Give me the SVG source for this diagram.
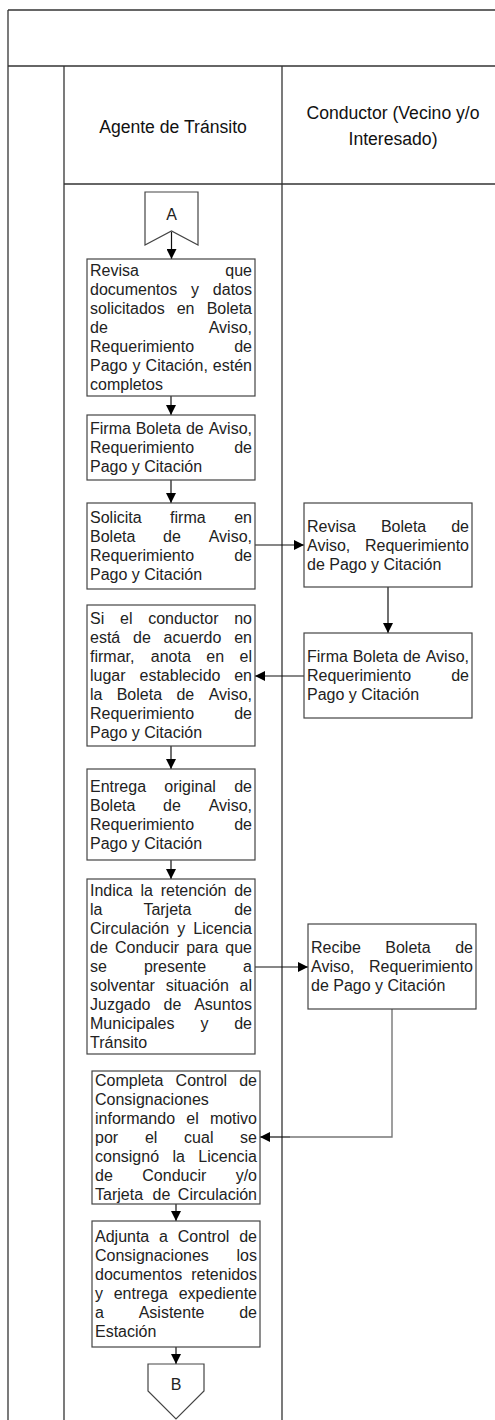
<svg xmlns="http://www.w3.org/2000/svg" width="495" height="1420" viewBox="0 0 495 1420">
<style>
.frame{stroke:#333;stroke-width:1.3;fill:none}
.box{fill:#fff;stroke:#444;stroke-width:1.2}
.t{font-family:"Liberation Sans",Arial,Helvetica,sans-serif;font-size:16px;fill:#222}
.e{text-anchor:end}
.m{text-anchor:middle}
.h{font-family:"Liberation Sans",Arial,Helvetica,sans-serif;font-size:17.6px;fill:#111;text-anchor:middle}
.c{stroke:#111;stroke-width:1.2;fill:none}
.cg{stroke:#777;stroke-width:1.4;fill:none}
</style>
<defs>
<marker id="ah" viewBox="0 0 10 10" refX="10" refY="5" markerWidth="10" markerHeight="10" markerUnits="userSpaceOnUse" orient="auto">
<path d="M0,0 L10,5 L0,10 Z" fill="#000"/>
</marker>
</defs>
<rect width="495" height="1420" fill="#fff"/>
<g id="frame">
<line class="frame" x1="8" y1="10" x2="500" y2="10"/>
<line class="frame" x1="8" y1="10" x2="8" y2="1420"/>
<line class="frame" x1="8" y1="66" x2="500" y2="66"/>
<line class="frame" x1="64" y1="66" x2="64" y2="1420"/>
<line class="frame" x1="282" y1="66" x2="282" y2="1420"/>
<line class="frame" x1="64" y1="184" x2="500" y2="184"/>
<text class="h" x="173" y="133">Agente de Tránsito</text>
<text class="h" x="393" y="119">Conductor (Vecino y/o</text>
<text class="h" x="393" y="145">Interesado)</text>
</g>
<g id="connectors">
<line class="c" x1="171.5" y1="232" x2="171.5" y2="259" marker-end="url(#ah)"/>
<line class="c" x1="171" y1="396" x2="171" y2="415" marker-end="url(#ah)"/>
<line class="c" x1="171" y1="480" x2="171" y2="503" marker-end="url(#ah)"/>
<line class="c" x1="255" y1="545" x2="304" y2="545" marker-end="url(#ah)"/>
<line class="c" x1="388" y1="587" x2="388" y2="633" marker-end="url(#ah)"/>
<line class="c" x1="304" y1="676" x2="255" y2="676" marker-end="url(#ah)"/>
<line class="c" x1="171" y1="746" x2="171" y2="769" marker-end="url(#ah)"/>
<line class="c" x1="171" y1="860" x2="171" y2="879" marker-end="url(#ah)"/>
<line class="c" x1="255" y1="967" x2="308" y2="967" marker-end="url(#ah)"/>
<polyline class="cg" points="392,1009 392,1137 290,1137"/>
<line class="c" x1="290" y1="1137" x2="260" y2="1137" marker-end="url(#ah)"/>
<line class="c" x1="176" y1="1204" x2="176" y2="1221" marker-end="url(#ah)"/>
<line class="c" x1="176" y1="1347" x2="176" y2="1364" marker-end="url(#ah)"/>
</g>
<g id="connA">
<polygon class="box" points="145,192 198,192 198,245 171.5,231 145,245"/>
<text class="t m" x="171.5" y="220">A</text>
</g>
<g id="n1">
<rect class="box" x="87" y="259" width="168" height="137"/>
<text class="t" x="90" y="276">Revisa</text><text class="t e" x="252" y="276">que</text>
<text class="t" x="90" y="295">documentos</text><text class="t" x="191" y="295">y</text><text class="t e" x="252" y="295">datos</text>
<text class="t" x="90" y="314">solicitados</text><text class="t" x="176.7" y="314">en</text><text class="t e" x="252" y="314">Boleta</text>
<text class="t" x="90" y="333">de</text><text class="t e" x="252" y="333">Aviso,</text>
<text class="t" x="90" y="352">Requerimiento</text><text class="t e" x="252" y="352">de</text>
<text class="t" x="90" y="371">Pago</text><text class="t" x="132.5" y="371">y</text><text class="t" x="145.6" y="371">Citación,</text><text class="t e" x="252" y="371">estén</text>
<text class="t" x="90" y="390">completos</text>
</g>
<g id="n2">
<rect class="box" x="87" y="415" width="168" height="65"/>
<text class="t" x="90" y="434">Firma</text><text class="t" x="135.7" y="434">Boleta</text><text class="t" x="185.9" y="434">de</text><text class="t e" x="252" y="434">Aviso,</text>
<text class="t" x="90" y="453">Requerimiento</text><text class="t e" x="252" y="453">de</text>
<text class="t" x="90" y="472">Pago y Citación</text>
</g>
<g id="n3">
<rect class="box" x="87" y="503" width="168" height="86"/>
<text class="t" x="90" y="523">Solicita</text><text class="t" x="170.1" y="523">firma</text><text class="t e" x="252" y="523">en</text>
<text class="t" x="90" y="542">Boleta</text><text class="t" x="163" y="542">de</text><text class="t e" x="252" y="542">Aviso,</text>
<text class="t" x="90" y="561">Requerimiento</text><text class="t e" x="252" y="561">de</text>
<text class="t" x="90" y="580">Pago y Citación</text>
</g>
<g id="n4">
<rect class="box" x="87" y="605" width="168" height="141"/>
<text class="t" x="90" y="624">Si</text><text class="t" x="120" y="624">el</text><text class="t" x="148.2" y="624">conductor</text><text class="t e" x="252" y="624">no</text>
<text class="t" x="90" y="643">está</text><text class="t" x="133" y="643">de</text><text class="t" x="163.6" y="643">acuerdo</text><text class="t e" x="252" y="643">en</text>
<text class="t" x="90" y="662">firmar,</text><text class="t" x="150.8" y="662">anota</text><text class="t" x="206.3" y="662">en</text><text class="t e" x="252" y="662">el</text>
<text class="t" x="90" y="681">lugar</text><text class="t" x="139.5" y="681">establecido</text><text class="t e" x="252" y="681">en</text>
<text class="t" x="90" y="700">la</text><text class="t" x="116.7" y="700">Boleta</text><text class="t" x="176.4" y="700">de</text><text class="t e" x="252" y="700">Aviso,</text>
<text class="t" x="90" y="719">Requerimiento</text><text class="t e" x="252" y="719">de</text>
<text class="t" x="90" y="738">Pago y Citación</text>
</g>
<g id="n5">
<rect class="box" x="87" y="769" width="168" height="91"/>
<text class="t" x="90" y="791.5">Entrega</text><text class="t" x="164.3" y="791.5">original</text><text class="t e" x="252" y="791.5">de</text>
<text class="t" x="90" y="810.5">Boleta</text><text class="t" x="163" y="810.5">de</text><text class="t e" x="252" y="810.5">Aviso,</text>
<text class="t" x="90" y="829.5">Requerimiento</text><text class="t e" x="252" y="829.5">de</text>
<text class="t" x="90" y="848.5">Pago y Citación</text>
</g>
<g id="n6">
<rect class="box" x="87" y="879" width="168" height="175"/>
<text class="t" x="90" y="896">Indica</text><text class="t" x="140.5" y="896">la</text><text class="t" x="160.7" y="896">retención</text><text class="t e" x="252" y="896">de</text>
<text class="t" x="90" y="915">la</text><text class="t" x="143.4" y="915">Tarjeta</text><text class="t e" x="252" y="915">de</text>
<text class="t" x="90" y="934">Circulación</text><text class="t" x="177.2" y="934">y</text><text class="t e" x="252" y="934">Licencia</text>
<text class="t" x="90" y="953">de</text><text class="t" x="115" y="953">Conducir</text><text class="t" x="186.2" y="953">para</text><text class="t e" x="252" y="953">que</text>
<text class="t" x="90" y="972">se</text><text class="t" x="143.9" y="972">presente</text><text class="t e" x="252" y="972">a</text>
<text class="t" x="90" y="991">solventar</text><text class="t" x="165.7" y="991">situación</text><text class="t e" x="252" y="991">al</text>
<text class="t" x="90" y="1010">Juzgado</text><text class="t" x="163.5" y="1010">de</text><text class="t e" x="252" y="1010">Asuntos</text>
<text class="t" x="90" y="1029">Municipales</text><text class="t" x="200.4" y="1029">y</text><text class="t e" x="252" y="1029">de</text>
<text class="t" x="90" y="1048">Tránsito</text>
</g>
<g id="n7">
<rect class="box" x="92" y="1071" width="168" height="133"/>
<text class="t" x="95" y="1086">Completa</text><text class="t" x="175.6" y="1086">Control</text><text class="t e" x="257" y="1086">de</text>
<text class="t" x="95" y="1105">Consignaciones</text>
<text class="t" x="95" y="1124">informando</text><text class="t" x="186.3" y="1124">el</text><text class="t e" x="257" y="1124">motivo</text>
<text class="t" x="95" y="1143">por</text><text class="t" x="144.9" y="1143">el</text><text class="t" x="184.1" y="1143">cual</text><text class="t e" x="257" y="1143">se</text>
<text class="t" x="95" y="1162">consignó</text><text class="t" x="172.5" y="1162">la</text><text class="t e" x="257" y="1162">Licencia</text>
<text class="t" x="95" y="1181">de</text><text class="t" x="142.3" y="1181">Conducir</text><text class="t e" x="257" y="1181">y/o</text>
<text class="t" x="95" y="1200">Tarjeta</text><text class="t" x="152.5" y="1200">de</text><text class="t e" x="257" y="1200">Circulación</text>
</g>
<g id="n8">
<rect class="box" x="92" y="1221" width="168" height="126"/>
<text class="t" x="95" y="1242">Adjunta</text><text class="t" x="159.1" y="1242">a</text><text class="t" x="177.8" y="1242">Control</text><text class="t e" x="257" y="1242">de</text>
<text class="t" x="95" y="1261">Consignaciones</text><text class="t e" x="257" y="1261">los</text>
<text class="t" x="95" y="1280">documentos</text><text class="t e" x="257" y="1280">retenidos</text>
<text class="t" x="95" y="1299">y</text><text class="t" x="113.7" y="1299">entrega</text><text class="t e" x="257" y="1299">expediente</text>
<text class="t" x="95" y="1318">a</text><text class="t" x="138.7" y="1318">Asistente</text><text class="t e" x="257" y="1318">de</text>
<text class="t" x="95" y="1337">Estación</text>
</g>
<g id="connB">
<polygon class="box" points="148,1364 204,1364 204,1391 176,1419 148,1391"/>
<text class="t m" x="176" y="1390">B</text>
</g>
<g id="r1">
<rect class="box" x="304" y="503" width="168" height="84"/>
<text class="t" x="307" y="531.5">Revisa</text><text class="t" x="380.9" y="531.5">Boleta</text><text class="t e" x="469" y="531.5">de</text>
<text class="t" x="307" y="550.5">Aviso,</text><text class="t e" x="469" y="550.5">Requerimiento</text>
<text class="t" x="307" y="569.5">de Pago y Citación</text>
</g>
<g id="r2">
<rect class="box" x="304" y="633" width="168" height="85"/>
<text class="t" x="307" y="662">Firma</text><text class="t" x="352.7" y="662">Boleta</text><text class="t" x="402.9" y="662">de</text><text class="t e" x="469" y="662">Aviso,</text>
<text class="t" x="307" y="681">Requerimiento</text><text class="t e" x="469" y="681">de</text>
<text class="t" x="307" y="700">Pago y Citación</text>
</g>
<g id="r3">
<rect class="box" x="308" y="924" width="168" height="85"/>
<text class="t" x="311" y="953">Recibe</text><text class="t" x="385.3" y="953">Boleta</text><text class="t e" x="473" y="953">de</text>
<text class="t" x="311" y="972">Aviso,</text><text class="t e" x="473" y="972">Requerimiento</text>
<text class="t" x="311" y="991">de Pago y Citación</text>
</g>
</svg>
